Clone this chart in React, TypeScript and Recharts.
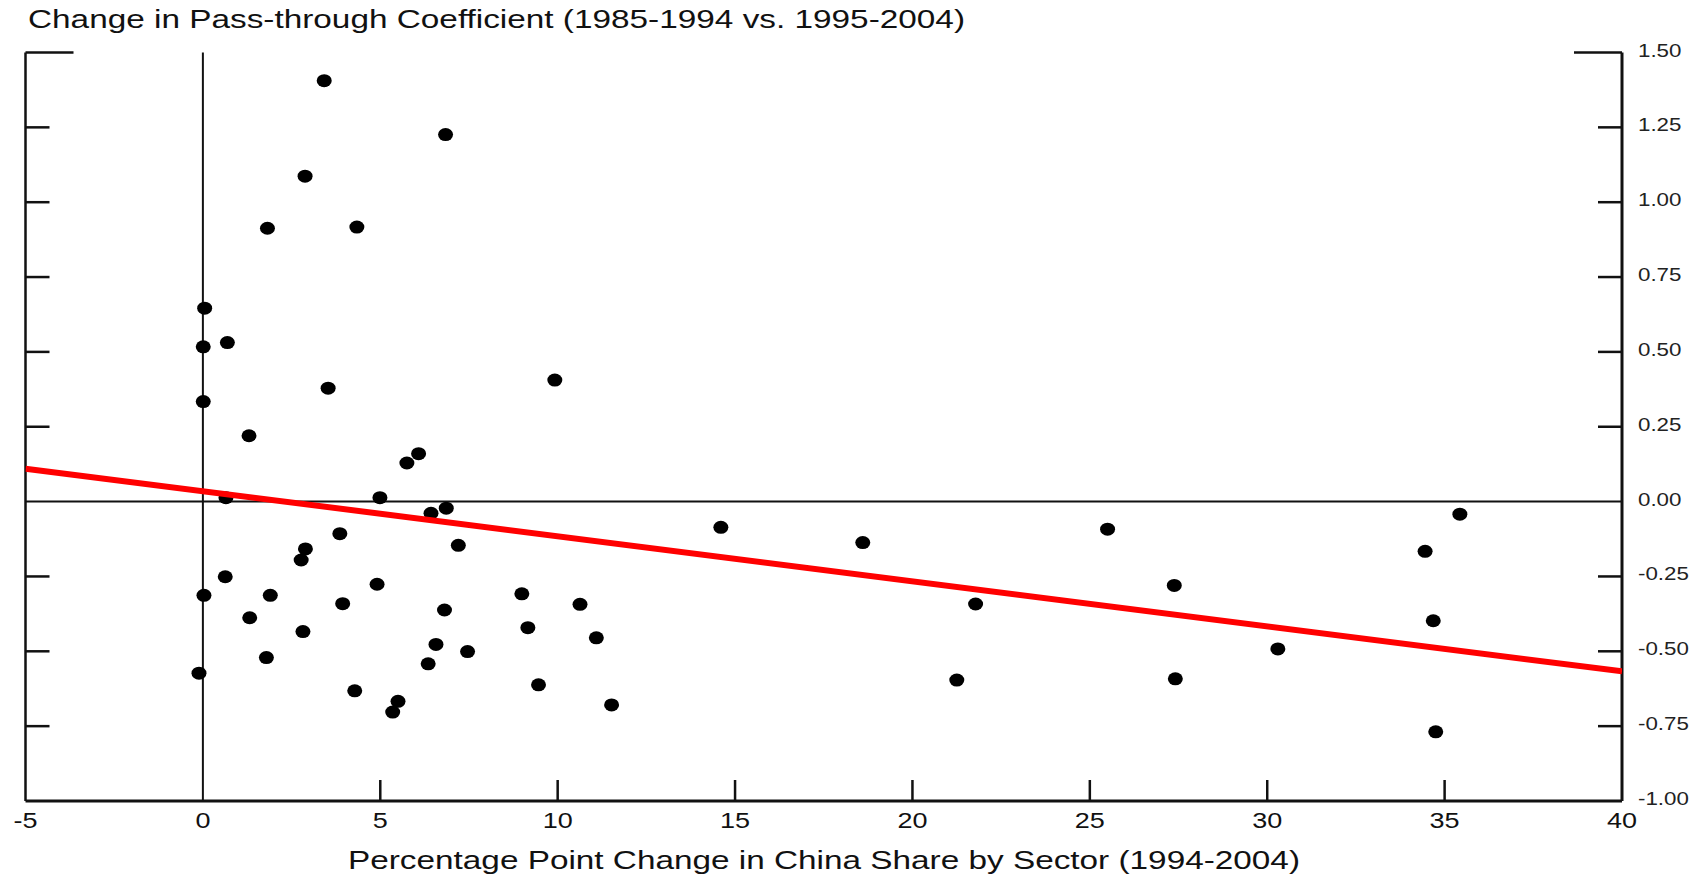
import { ScatterChart, Scatter, XAxis, YAxis, ReferenceLine } from "recharts";

// percentage point change in China share, by sector (1994-2004)
const shareChange = [
  3.42, 6.84, 2.88, 1.82, 4.34, 0.05, 0.01, 0.69, 3.53, 9.92, 0.01, 1.3,
  6.08, 5.75, 0.65, 4.99, 6.43, 6.86, 3.86, 2.89, 2.77, 7.2, 0.63, 4.91,
  0.03, 1.9, 8.99, 3.94, 6.81, 10.63, 1.32, 9.16, 2.82, 11.09, 6.57, 7.46,
  1.79, 6.35, -0.11, 4.28, 9.46, 5.5, 5.35, 11.52, 14.6, 18.6, 21.78, 21.25,
  25.5, 27.38, 27.41, 30.3, 34.45, 35.43, 34.68, 34.75,
];

// change in pass-through coefficient (1985-1994 vs. 1995-2004)
const passThroughChange = [
  1.406, 1.226, 1.087, 0.913, 0.917, 0.646, 0.517, 0.531, 0.379, 0.406, 0.334, 0.22,
  0.16, 0.129, 0.013, 0.013, -0.039, -0.022, -0.107, -0.158, -0.195, -0.146, -0.251, -0.276,
  -0.313, -0.313, -0.308, -0.341, -0.362, -0.343, -0.388, -0.421, -0.434, -0.455, -0.477, -0.501,
  -0.521, -0.542, -0.573, -0.632, -0.612, -0.667, -0.703, -0.679, -0.086, -0.137, -0.342, -0.596,
  -0.092, -0.28, -0.592, -0.492, -0.166, -0.042, -0.398, -0.769,
];

// fitted line endpoints
const fitX = [-5, 40];
const fitY = [0.11, -0.567];

const xTicks = [-5, 0, 5, 10, 15, 20, 25, 30, 35, 40];
const yTicks = [-1, -0.75, -0.5, -0.25, 0, 0.25, 0.5, 0.75, 1, 1.25, 1.5];

const points = shareChange.map((x, i) => ({ x, y: passThroughChange[i] }));
const fitLine = fitX.map((x, i) => ({ x, y: fitY[i] }));

const FONT = '"Liberation Sans", Arial, sans-serif';
const INK = "#111";
const TICK_SIZE = 10;

function Dot(props: any) {
  const { cx, cy } = props;
  if (cx == null || cy == null) return <g />;
  return <ellipse cx={cx} cy={cy} rx={7.5} ry={6.5} fill="#000" />;
}

function NoDot() {
  return <g />;
}

function XTick({ x, y, payload }: any) {
  const axisY = y - TICK_SIZE;
  const v = payload.value;
  return (
    <g>
      {v > 0 && v < 40 && (
        <line x1={x} x2={x} y1={axisY} y2={axisY - 21} stroke={INK} strokeWidth={2.5} />
      )}
      <text
        transform={`translate(${x},${axisY + 27}) scale(1.2,1)`}
        textAnchor="middle"
        fontSize={22.5}
        fontFamily={FONT}
        fill={INK}
      >
        {v}
      </text>
    </g>
  );
}

function RightTick({ x, y, payload }: any) {
  const axisX = x - TICK_SIZE;
  const v = payload.value;
  const len = v === 1.5 ? 48 : 24;
  return (
    <g>
      {v > -1 && v !== 0 && (
        <line x1={axisX} x2={axisX - len} y1={y} y2={y} stroke={INK} strokeWidth={2.5} />
      )}
      <text
        transform={`translate(${axisX + 16},${y + 4}) scale(1.2,1)`}
        textAnchor="start"
        fontSize={18.6}
        fontFamily={FONT}
        fill="#222"
      >
        {v.toFixed(2)}
      </text>
    </g>
  );
}

function LeftTick({ x, y, payload }: any) {
  const axisX = x + TICK_SIZE;
  const v = payload.value;
  const len = v === 1.5 ? 48 : 24;
  if (v <= -1 || v === 0) return <g />;
  return <line x1={axisX} x2={axisX + len} y1={y} y2={y} stroke={INK} strokeWidth={2.5} />;
}

export default function App() {
  return (
    <div style={{ position: "absolute", left: 0, top: 0, width: 1703, height: 879, background: "#fff" }}>
      <ScatterChart
        width={1703}
        height={879}
        margin={{ top: 52.5, right: 11, bottom: 38, left: 24.5 }}
      >
        <XAxis
          type="number"
          dataKey="x"
          domain={[-5, 40]}
          ticks={xTicks}
          interval={0}
          allowDataOverflow
          height={40}
          tickSize={TICK_SIZE}
          tickMargin={0}
          tickLine={false}
          axisLine={{ stroke: INK, strokeWidth: 3 }}
          tick={<XTick />}
        />
        <YAxis
          yAxisId="left"
          orientation="left"
          type="number"
          dataKey="y"
          domain={[-1, 1.5]}
          ticks={yTicks}
          interval={0}
          allowDataOverflow
          width={1}
          tickSize={TICK_SIZE}
          tickMargin={0}
          tickLine={false}
          axisLine={{ stroke: INK, strokeWidth: 2.5 }}
          tick={<LeftTick />}
        />
        <YAxis
          yAxisId="right"
          orientation="right"
          type="number"
          dataKey="y"
          domain={[-1, 1.5]}
          ticks={yTicks}
          interval={0}
          allowDataOverflow
          width={70}
          tickSize={TICK_SIZE}
          tickMargin={0}
          tickLine={false}
          axisLine={{ stroke: INK, strokeWidth: 3 }}
          tick={<RightTick />}
        />
        <ReferenceLine yAxisId="right" x={0} stroke={INK} strokeWidth={2} />
        <ReferenceLine yAxisId="right" y={0} stroke={INK} strokeWidth={2} />
        <Scatter
          yAxisId="right"
          data={points}
          fill="#000"
          shape={<Dot />}
          isAnimationActive={false}
        />
        <Scatter
          yAxisId="left"
          data={fitLine}
          fill="#ff0000"
          line={{ stroke: "#ff0000", strokeWidth: 6 }}
          lineType="joint"
          shape={<NoDot />}
          isAnimationActive={false}
        />
      </ScatterChart>
      <svg
        width={1703}
        height={879}
        style={{ position: "absolute", left: 0, top: 0, pointerEvents: "none" }}
      >
        <text
          x={28}
          y={28}
          fontSize={25}
          fontFamily={FONT}
          fill={INK}
          textLength={937}
          lengthAdjust="spacingAndGlyphs"
        >
          Change in Pass-through Coefficient (1985-1994 vs. 1995-2004)
        </text>
        <text
          x={824}
          y={869}
          fontSize={26}
          fontFamily={FONT}
          fill={INK}
          textAnchor="middle"
          textLength={952}
          lengthAdjust="spacingAndGlyphs"
        >
          Percentage Point Change in China Share by Sector (1994-2004)
        </text>
      </svg>
    </div>
  );
}
